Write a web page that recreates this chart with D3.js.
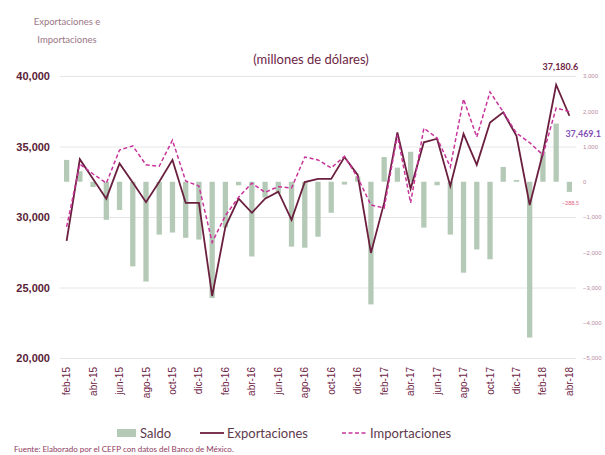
<!DOCTYPE html>
<html lang="es">
<head>
<meta charset="UTF-8">
<title>Exportaciones e Importaciones</title>
<script src="https://cdn.jsdelivr.net/npm/d3@7/dist/d3.min.js"></script>
<style>
  body { margin: 0; background: #fff; }
  svg { display: block; font-family: Lato, "Open Sans", sans-serif; }
</style>
</head>
<body>
<div id="grafica"></div>
<script>
// meses (feb-15 a abr-18)
const meses = ["feb-15","mar-15","abr-15","may-15","jun-15","jul-15","ago-15","sep-15","oct-15","nov-15","dic-15",
  "ene-16","feb-16","mar-16","abr-16","may-16","jun-16","jul-16","ago-16","sep-16","oct-16","nov-16","dic-16",
  "ene-17","feb-17","mar-17","abr-17","may-17","jun-17","jul-17","ago-17","sep-17","oct-17","nov-17","dic-17",
  "ene-18","feb-18","mar-18","abr-18"];

// millones de dolares
const exportaciones = [28300,34100,32700,31300,33800,32450,31050,32500,34050,31000,31000,
  24400,29300,31300,30300,31300,31800,29800,32480,32700,32700,34250,32980,
  27450,31000,36000,32000,35300,35550,32200,35900,33700,36700,37420,35750,
  30850,34540,39380,37180.6];

const importaciones = [29300,33750,33050,32400,34750,35040,33700,33600,35450,32550,32200,
  28200,30100,31400,32400,31750,32150,32060,34250,34050,33480,34300,32800,
  30850,30640,35800,31000,36300,35600,33550,38370,35670,38870,37450,35950,
  35270,34400,37730,37469.1];

const saldo = [620,300,-150,-1080,-800,-2400,-2830,-1500,-1440,-1590,-1640,
  -3300,-1300,-100,-2120,-450,-330,-1840,-1870,-1560,-880,-80,150,
  -3480,700,400,850,-1300,-100,-1500,-2580,-1920,-2200,420,50,
  -4420,850,1650,-288.5];

const ticksIzq = [20000,25000,30000,35000,40000];
const ticksDer = [-5000,-4000,-3000,-2000,-1000,0,1000,2000,3000];
const etiquetasX = meses.filter((d, i) => i % 2 === 0);

const ancho = 605, alto = 455;
const vino = "#6b1f3f", rosa = "#c8349a", verde = "#b4cab6";

const svg = d3.select("#grafica").append("svg")
  .attr("width", ancho)
  .attr("height", alto);

const x = d3.scaleBand().domain(meses).range([60, 576]).paddingInner(0.6).paddingOuter(0.3);
const xc = d => x(d) + x.bandwidth() / 2;
const yIzq = d3.scaleLinear().domain([20000, 40000]).range([358, 76]);
const yDer = d3.scaleLinear().domain([-5000, 3000]).range([358, 76]);

// titulos
svg.append("text").attr("x", 67).attr("y", 25).attr("text-anchor", "middle")
  .style("font-size", "9.5px").style("fill", "#9a7585").text("Exportaciones e");
svg.append("text").attr("x", 67).attr("y", 43).attr("text-anchor", "middle")
  .style("font-size", "9.5px").style("fill", "#9a7585").text("Importaciones");
svg.append("text").attr("x", 311).attr("y", 64).attr("text-anchor", "middle")
  .style("font-size", "13px").style("fill", "#6e2545").text("(millones de dólares)");

// rejilla y eje izquierdo
const ejeIzq = svg.append("g")
  .attr("transform", "translate(60,0)")
  .call(d3.axisLeft(yIzq).tickValues(ticksIzq).tickSize(-516).tickPadding(10)
    .tickFormat(d3.format(",")));
ejeIzq.select(".domain").remove();
ejeIzq.selectAll("line").attr("stroke", "#e6e6e6");
ejeIzq.selectAll("text").style("font-size", "11px").style("font-weight", "bold")
  .style("fill", "#5a2238");

// eje derecho
const ejeDer = svg.append("g")
  .attr("transform", "translate(576,0)")
  .call(d3.axisRight(yDer).tickValues(ticksDer).tickSize(0).tickPadding(7)
    .tickFormat(d3.format(",")));
ejeDer.select(".domain").remove();
ejeDer.selectAll("text").style("font-size", "6px").style("fill", "#b88a9c");

// barras de saldo
svg.append("g").selectAll("rect")
  .data(meses)
  .join("rect")
  .attr("x", d => x(d))
  .attr("width", x.bandwidth())
  .attr("y", (d, i) => Math.min(yDer(saldo[i]), yDer(0)))
  .attr("height", (d, i) => Math.abs(yDer(saldo[i]) - yDer(0)))
  .attr("fill", verde);

// lineas
const linea = d3.line().x((d, i) => xc(meses[i])).y(d => yIzq(d));
svg.append("path").datum(exportaciones)
  .attr("fill", "none").attr("stroke", vino).attr("stroke-width", 1.8)
  .attr("d", linea);
svg.append("path").datum(importaciones)
  .attr("fill", "none").attr("stroke", rosa).attr("stroke-width", 1.5)
  .attr("stroke-dasharray", "4,2.5")
  .attr("d", linea);

// etiquetas de datos
const ult = meses.length - 1;
svg.append("text").attr("x", xc(meses[ult]) - 9).attr("y", 70).attr("text-anchor", "middle")
  .style("font-size", "9px").style("font-weight", "bold").style("fill", "#6e2545")
  .text(d3.format(",.1f")(exportaciones[ult]));
svg.append("text").attr("x", xc(meses[ult]) - 4).attr("y", yIzq(importaciones[ult]) + 25)
  .style("font-size", "9px").style("font-weight", "bold").style("fill", "#8450b8")
  .text(d3.format(",.1f")(importaciones[ult]));
svg.append("text").attr("x", xc(meses[ult]) + 1).attr("y", yDer(saldo[ult]) + 13).attr("text-anchor", "middle")
  .style("font-size", "5.5px").style("fill", "#e0607f")
  .text(d3.format(",.1f")(saldo[ult]));

// eje x
const ejeX = svg.append("g")
  .attr("transform", "translate(0,358)")
  .call(d3.axisBottom(x).tickValues(etiquetasX).tickSize(0).tickPadding(0));
ejeX.select(".domain").remove();
ejeX.selectAll("text")
  .attr("transform", "rotate(-90)")
  .attr("x", -9).attr("y", 0).attr("dy", "0.35em")
  .style("text-anchor", "end")
  .style("font-size", "10px")
  .style("fill", "#6e2545");

// leyenda
const ley = svg.append("g").style("font-size", "13px").style("fill", "#5e3a4c");
ley.append("rect").attr("x", 117).attr("y", 429).attr("width", 19).attr("height", 8).attr("fill", verde);
ley.append("text").attr("x", 140).attr("y", 438).text("Saldo");
ley.append("line").attr("x1", 200).attr("x2", 224).attr("y1", 433).attr("y2", 433)
  .attr("stroke", vino).attr("stroke-width", 1.8);
ley.append("text").attr("x", 227).attr("y", 438).text("Exportaciones");
ley.append("line").attr("x1", 342).attr("x2", 367).attr("y1", 433).attr("y2", 433)
  .attr("stroke", rosa).attr("stroke-width", 1.5).attr("stroke-dasharray", "4,2.5");
ley.append("text").attr("x", 370).attr("y", 438).text("Importaciones");

svg.append("text").attr("x", 14).attr("y", 452)
  .style("font-size", "8px").style("fill", "#8e3a5e")
  .text("Fuente: Elaborado por el CEFP con datos del Banco de México.");
</script>
</body>
</html>
